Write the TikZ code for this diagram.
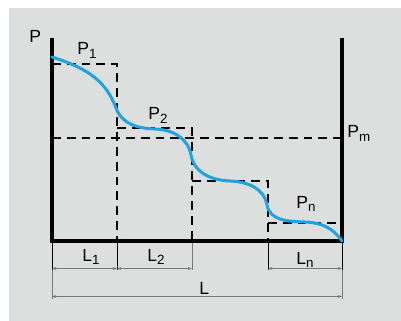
\documentclass[tikz,border=0pt]{standalone}
\usepackage{fontspec}
\setmainfont{Liberation Sans}
\usetikzlibrary{arrows.meta}
\definecolor{bggray}{RGB}{221,222,222}
\definecolor{curveblue}{RGB}{30,163,228}
\definecolor{dimgray}{RGB}{120,120,120}
\newcommand{\lsub}[1]{\raisebox{-2.2pt}{\fontsize{9.5}{11}\selectfont #1}}

\begin{document}
\begin{tikzpicture}[x=0.025cm, y=-0.025cm,
        wall/.style={line width=0.1cm, line join=miter},
        stepline/.style={dash pattern=on 0.22cm off 0.15cm, line width=0.035cm},
        extline/.style={line width=0.6pt},
        dimline/.style={dimgray, line width=0.5pt, {Stealth[length=3pt,width=2pt]}-{Stealth[length=3pt,width=2pt]}},
        curve/.style={curveblue, line width=0.075cm, line cap=round},
        lbl/.style={anchor=base west, inner sep=0pt, font=\fontsize{12.5}{14}\selectfont}]
    \useasboundingbox (0,0) rectangle (401,321);
    \fill[bggray] (9,8) rectangle (401,321);

    % corner points of the vessel
    \coordinate (ptop) at (52,38);
    \coordinate (o) at (52,241);
    \coordinate (e) at (342,241);
    \coordinate (etop) at (342,38);

    % dashed steps
    \draw[stepline] (52,64) -- (117,64) -- (117,241);
    \draw[stepline] (117,128) -- (192,128) -- (192,241);
    \draw[stepline] (192,181) -- (268,181) -- (268,241);
    \draw[stepline] (268,223) -- (342,223);
    \draw[stepline] (52,138) -- (342,138);

    % extension lines
    \draw[extline] (52,241) -- (52,270);
    \draw[extline] (117,241) -- (117,270);
    \draw[extline] (268,241) -- (268,270);
    \draw[extline] (342,241) -- (342,270);
    \draw[extline, dimgray] (192,241) -- (192,270);
    \draw[extline, dimgray] (52,270) -- (52,299);
    \draw[extline, dimgray] (342,270) -- (342,299);

    % dimension lines
    \coordinate (d0) at (52,268.5);
    \coordinate (d1) at (117,268.5);
    \coordinate (d2) at (192,268.5);
    \coordinate (d3) at (268,268.5);
    \coordinate (d4) at (342,268.5);
    \coordinate (dl0) at (52,296.5);
    \coordinate (dl1) at (342,296.5);
    \draw[dimline] (d0) -- (d1);
    \draw[dimline] (d1) -- (d2);
    \draw[dimline] (d3) -- (d4);
    \draw[dimline] (dl0) -- (dl1);

    % walls
    \draw[wall] (ptop) -- (o) -- (e) -- (etop);

    % pressure curve
    \draw[curve] (52,57) to[out=-18,in=110] (116,108) to[out=-70,in=178] (155,129)
        to[out=-2,in=100] (191,155) to[out=-80,in=178] (230,181)
        to[out=-2,in=100] (267,205) to[out=-80,in=178] (305,222)
        to[out=-2,in=125] (e);

    % labels
    \node[lbl] (p) at (29,43) {P};
    \node[lbl] (p1) at (77,55) {P\lsub{1}};
    \node[lbl] (p2) at (148,120) {P\lsub{2}};
    \node[lbl] (pm) at (347,138) {P\lsub{m}};
    \node[lbl] (pn) at (296,208) {P\lsub{n}};
    \node[lbl] (l1) at (82,261) {L\lsub{1}};
    \node[lbl] (l2) at (147,261) {L\lsub{2}};
    \node[lbl] (ln) at (296,264) {L\lsub{n}};
    \node[lbl] (l) at (199,294) {L};
\end{tikzpicture}
\end{document}
